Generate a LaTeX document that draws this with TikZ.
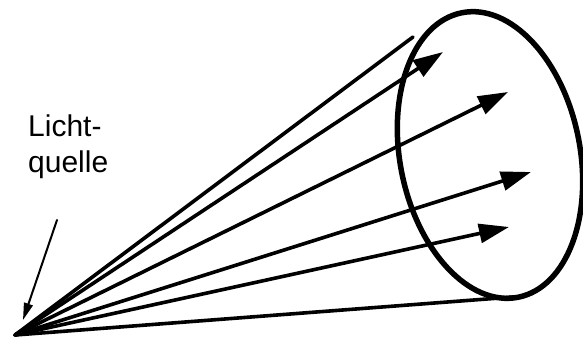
\documentclass[tikz,border=0pt]{standalone}
\usepackage{fontspec}
\setmainfont{Liberation Sans}
\usetikzlibrary{arrows.meta, positioning}

\begin{document}
\begin{tikzpicture}[x=1pt, y=1pt, line cap=round,
    ray/.style={line width=3.6pt},
    beam/.style={ray, -{Triangle[length=30pt, width=19pt]}},
    pointer/.style={line width=2pt, -{Triangle[length=17pt, width=9pt]}}]
      \useasboundingbox (0,0) rectangle (583,338);

      % Light source
      \coordinate (src) at (15,3);

      % Cone outline
      \coordinate (rimtop) at (413,301);
      \coordinate (rimbot) at (513,41);
      \draw [ray] (src) -- (rimtop);
      \draw [ray] (src) -- (rimbot);

      % Ellipse
      \draw [line width=5.5pt, rotate around={11.2:(490,183)}] (490,183) ellipse [x radius=90, y radius=145];

      % Rays
      \coordinate (tipa) at (443,286);
      \coordinate (tipb) at (508,246);
      \coordinate (tipc) at (531,166);
      \coordinate (tipd) at (509,111);
      \foreach \t in {tipa, tipb, tipc, tipd}
        \draw [beam] (src) -- (\t);

      % Label
      \node [anchor=base west, align=left, inner sep=0pt, font=\fontsize{30}{36}\selectfont] (label) at (28,166) {Licht-\\quelle};
      \coordinate (ptrstart) at (57,118);
      \draw [pointer] (ptrstart) -- (23,18);
    \end{tikzpicture}
\end{document}
